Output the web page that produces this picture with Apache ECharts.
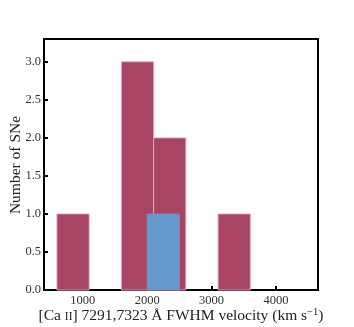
<!DOCTYPE html>
<html><head><meta charset="utf-8">
<script src="https://cdn.jsdelivr.net/npm/echarts@6/dist/echarts.min.js"></script>
<style>html,body{margin:0;padding:0;background:#fff}#c{width:354px;height:327px}</style>
</head><body><div id="c"></div>
<script>
// Histogram of [Ca II] FWHM velocities
const redBinEdges = [600, 1100, 1600, 2100, 2600, 3100, 3600];
const redCounts = [1, 0, 3, 2, 0, 1];
const blueBinEdges = [2000, 2500];
const blueCounts = [1];
const xTicks = [1000, 2000, 3000, 4000];
const yTicks = [0, 0.5, 1.0, 1.5, 2.0, 2.5, 3.0];
const xTitle = '{n|[Ca }{s|II}{n|] 7291,7323 Å FWHM velocity (km s}{sup|−1}{n|)}';
const yTitle = 'Number of SNe';

function toBars(edges, counts) {
  const out = [];
  for (let i = 0; i < counts.length; i++) {
    if (counts[i] > 0) out.push([edges[i], edges[i + 1], counts[i]]);
  }
  return out;
}

const font = 'Liberation Serif, DejaVu Serif, serif';

function renderBar(fill, stroke) {
  return function (params, api) {
    const p0 = api.coord([api.value(0), api.value(2)]);
    const p1 = api.coord([api.value(1), 0]);
    return {
      type: 'rect',
      shape: { x: p0[0], y: p0[1], width: p1[0] - p0[0], height: p1[1] - p0[1] },
      style: { fill: fill, stroke: stroke, lineWidth: 1 }
    };
  };
}

const chart = echarts.init(document.getElementById('c'));
chart.setOption({
  animation: false,
  grid: { left: 44, right: 36, top: 39, bottom: 37, show: true, borderColor: '#000', borderWidth: 2,
    containLabel: false, outerBoundsMode: 'none' },
  graphic: [
    {
      type: 'text', x: 181, y: 316,
      style: {
        text: xTitle, align: 'center', verticalAlign: 'middle',
        rich: {
          n: { fontFamily: font, fontSize: 15.5, fill: '#222' },
          s: { fontFamily: font, fontSize: 11.5, fill: '#222', padding: [2, 0, 0, 0] },
          sup: { fontFamily: font, fontSize: 10.5, fill: '#222', padding: [0, 0, 8, 0] }
        }
      }
    },
    {
      type: 'text', x: 16, y: 165, rotation: Math.PI / 2,
      style: { text: yTitle, align: 'center', verticalAlign: 'middle', fontFamily: font, fontSize: 15.5, fill: '#222' }
    }
  ],
  xAxis: {
    type: 'value', min: 400, max: 4650,
    axisLine: { show: true, onZero: false, lineStyle: { color: '#000', width: 2 } },
    axisTick: { show: true, inside: true, length: 4, lineStyle: { color: '#000', width: 2 }, customValues: xTicks },
    axisLabel: { fontFamily: font, fontSize: 12.5, color: '#333', margin: 4, customValues: xTicks,
      formatter: v => String(v) },
    splitLine: { show: false }
  },
  yAxis: {
    type: 'value', min: 0, max: 3.3,
    axisLine: { show: true, lineStyle: { color: '#000', width: 2 } },
    axisTick: { show: true, inside: true, length: 4, lineStyle: { color: '#000', width: 2 }, customValues: yTicks },
    axisLabel: { fontFamily: font, fontSize: 12.5, color: '#333', margin: 3, customValues: yTicks,
      formatter: v => v.toFixed(1) },
    splitLine: { show: false }
  },
  series: [
    {
      type: 'custom', renderItem: renderBar('rgb(168,69,101)', 'rgba(230,170,190,0.9)'),
      encode: { x: [0, 1], y: 2 }, data: toBars(redBinEdges, redCounts), z: 1
    },
    {
      type: 'custom', renderItem: renderBar('rgb(102,153,204)', 'rgba(120,140,200,0.9)'),
      encode: { x: [0, 1], y: 2 }, data: toBars(blueBinEdges, blueCounts), z: 2
    }
  ]
});
</script></body></html>
